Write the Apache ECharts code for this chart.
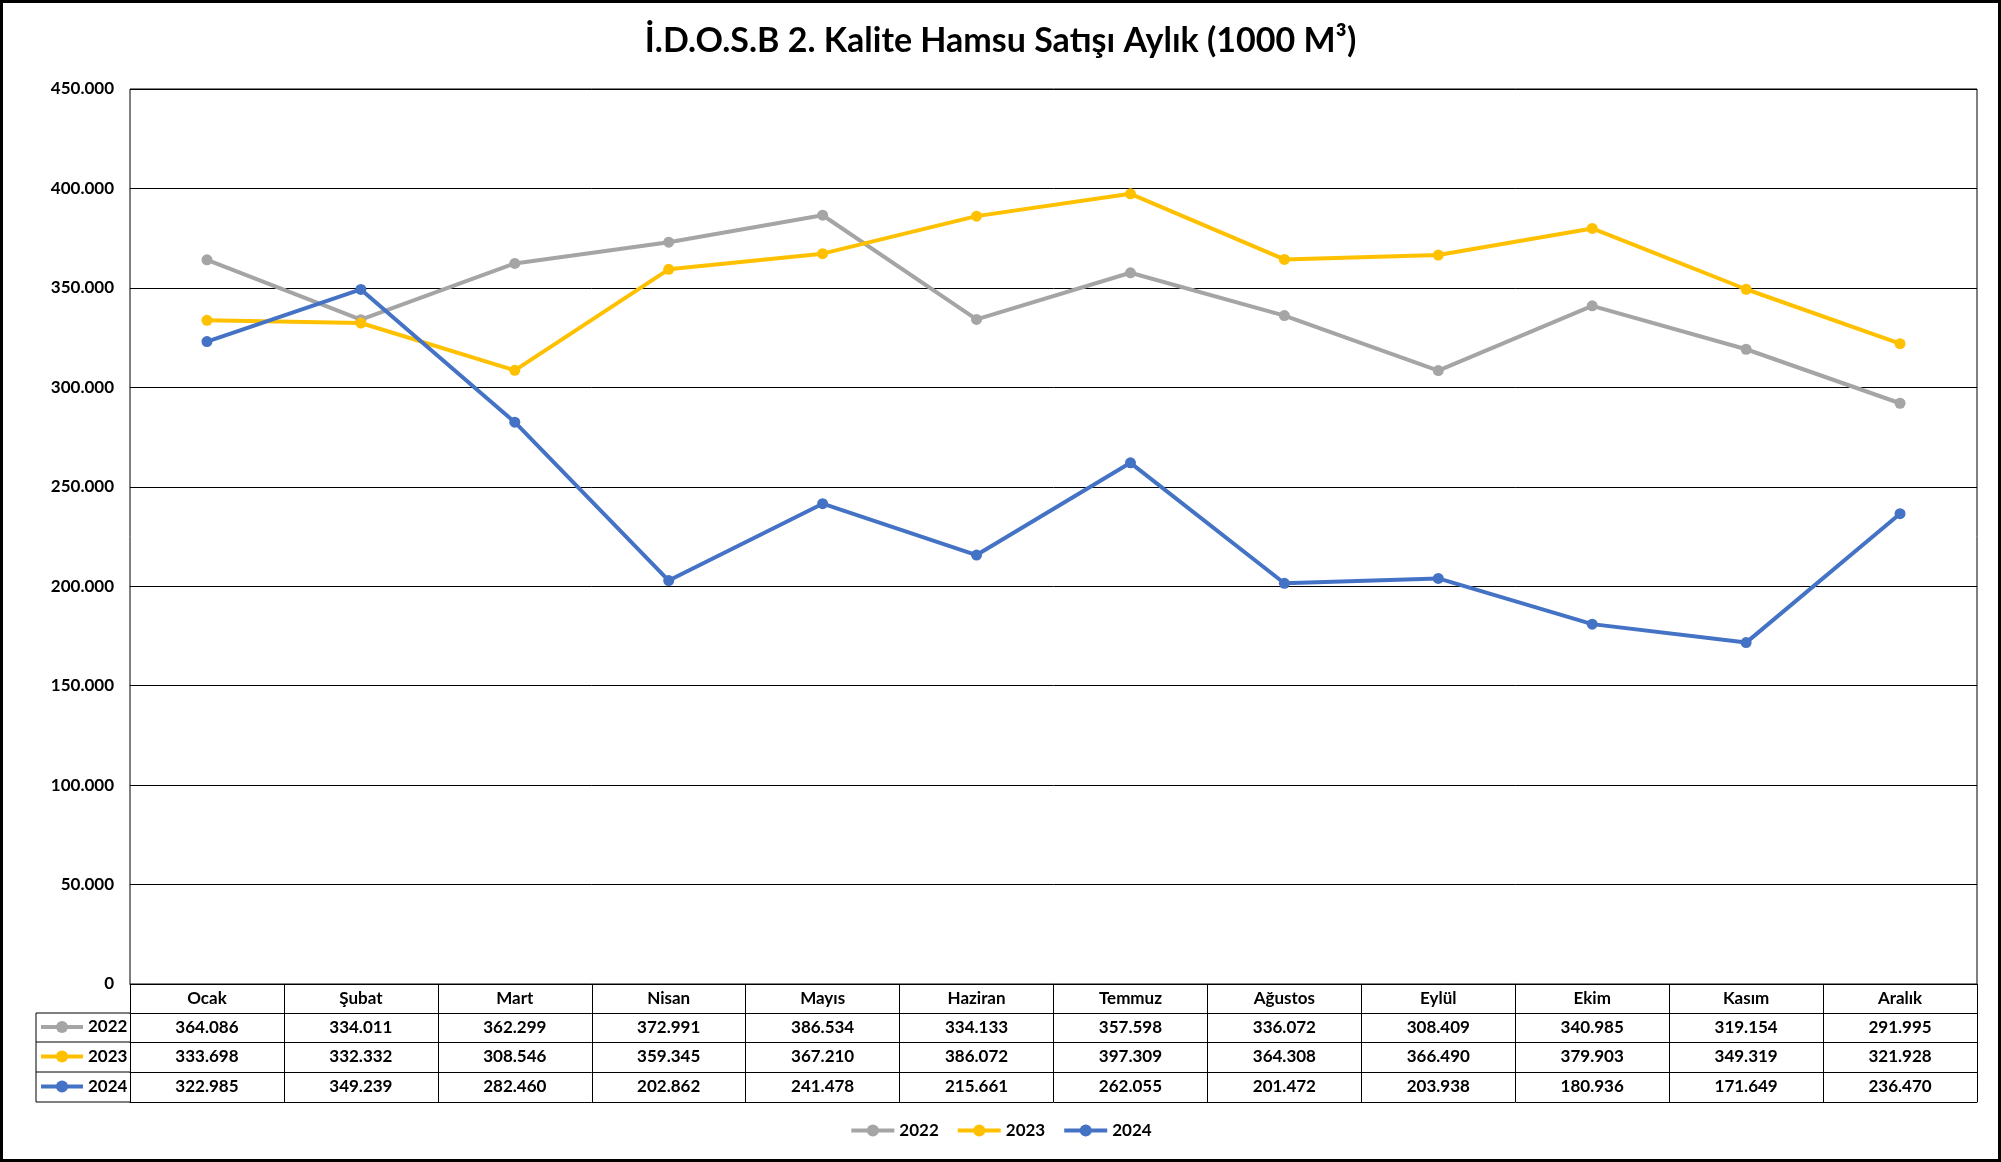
<!DOCTYPE html>
<html>
<head>
<meta charset="utf-8">
<script src="https://cdn.jsdelivr.net/npm/echarts@6/dist/echarts.min.js"></script>
<style>
html,body{margin:0;padding:0;background:#fff;}
#chart{width:2001px;height:1162px;}
</style>
</head>
<body>
<div id="chart"></div>
<script>
const months = ['Ocak','Şubat','Mart','Nisan','Mayıs','Haziran','Temmuz','Ağustos','Eylül','Ekim','Kasım','Aralık'];
const seriesNames = ['2022','2023','2024'];
const v2022 = [364086,334011,362299,372991,386534,334133,357598,336072,308409,340985,319154,291995];
const v2023 = [333698,332332,308546,359345,367210,386072,397309,364308,366490,379903,349319,321928];
const v2024 = [322985,349239,282460,202862,241478,215661,262055,201472,203938,180936,171649,236470];
const yTicks = {min:0, max:450000, interval:50000};
const colors = ['#A5A5A5','#FFC000','#4472C4'];

function fmt(v){ return String(v).replace(/\B(?=(\d{3})+(?!\d))/g,'.'); }

const FONT = 'Lato, "Noto Sans", sans-serif';
const lab = {color:'#000', fontWeight:'bold', fontSize:17, fontFamily:FONT};

const G = {left:130, right:24, top:89, bottom:178};
const rowOff = [0,29,58,88,118];
const tblLeft = 36;

function rowAxis(data, off, showLabel){
  return {
    type:'category', gridIndex:0, position:'bottom', offset:off, data:data,
    boundaryGap:true,
    axisLine:{show:true, lineStyle:{color:'#000', width:1}},
    axisTick:{show:false},
    splitLine:{show:false},
    axisLabel:Object.assign({show:showLabel, interval:0, margin:6}, lab)
  };
}

const chart = echarts.init(document.getElementById('chart'), null, {renderer:'canvas'});
const legendBase = {
  selectedMode:false, itemWidth:43, itemHeight:15, padding:0, orient:'horizontal',
  lineStyle:{width:4},
  textStyle:{color:'#000', fontWeight:'bold', fontSize:17, fontFamily:FONT}
};
const rowCenters = [1027.5, 1057, 1087];

chart.setOption({
  animation:false,
  color:colors,
  title:{
    text:'İ.D.O.S.B 2. Kalite Hamsu Satışı Aylık (1000 M³)',
    left:'center', top:19,
    textStyle:{color:'#000', fontWeight:'bold', fontSize:34, fontFamily:FONT}
  },
  grid:{left:G.left, right:G.right, top:G.top, bottom:G.bottom, show:true, borderColor:'#000', borderWidth:1, backgroundColor:'transparent'},
  xAxis:[
    {
      type:'category', gridIndex:0, position:'bottom', offset:0, data:months, boundaryGap:true,
      axisLine:{show:true, lineStyle:{color:'#000', width:1}},
      axisTick:{show:true, interval:0, inside:false, length:118, lineStyle:{color:'#000', width:1}},
      splitLine:{show:false},
      axisLabel:Object.assign({interval:0, margin:6}, lab)
    },
    rowAxis(v2022.map(fmt), rowOff[1], true),
    rowAxis(v2023.map(fmt), rowOff[2], true),
    rowAxis(v2024.map(fmt), rowOff[3], true),
    rowAxis(months, rowOff[4], false)
  ],
  yAxis:{
    type:'value', min:yTicks.min, max:yTicks.max, interval:yTicks.interval,
    axisLine:{show:false}, axisTick:{show:false},
    splitLine:{show:true, lineStyle:{color:'#000', width:1}},
    axisLabel:Object.assign({margin:16, formatter:fmt}, lab)
  },
  legend:[
    Object.assign({data:seriesNames, left:'center', top:1122, itemGap:17}, legendBase),
    Object.assign({data:['2022'], left:39, top:rowCenters[0]-9, itemWidth:42}, legendBase, {itemWidth:42}),
    Object.assign({data:['2023'], left:39, top:rowCenters[1]-9}, legendBase, {itemWidth:42}),
    Object.assign({data:['2024'], left:39, top:rowCenters[2]-9}, legendBase, {itemWidth:42})
  ],
  series:[
    {name:'2022', type:'line', data:v2022, symbol:'circle', symbolSize:11, lineStyle:{width:4}, itemStyle:{color:colors[0]}, z:2},
    {name:'2023', type:'line', data:v2023, symbol:'circle', symbolSize:11, lineStyle:{width:4}, itemStyle:{color:colors[1]}, z:3},
    {name:'2024', type:'line', data:v2024, symbol:'circle', symbolSize:11, lineStyle:{width:4}, itemStyle:{color:colors[2]}, z:4}
  ],
  graphic:[
    {type:'line', shape:{x1:tblLeft, y1:984+rowOff[1], x2:G.left, y2:984+rowOff[1]}, style:{stroke:'#000', lineWidth:1}},
    {type:'line', shape:{x1:tblLeft, y1:984+rowOff[2], x2:G.left, y2:984+rowOff[2]}, style:{stroke:'#000', lineWidth:1}},
    {type:'line', shape:{x1:tblLeft, y1:984+rowOff[3], x2:G.left, y2:984+rowOff[3]}, style:{stroke:'#000', lineWidth:1}},
    {type:'line', shape:{x1:tblLeft, y1:984+rowOff[4], x2:G.left, y2:984+rowOff[4]}, style:{stroke:'#000', lineWidth:1}},
    {type:'line', shape:{x1:tblLeft, y1:984+rowOff[1], x2:tblLeft, y2:984+rowOff[4]}, style:{stroke:'#000', lineWidth:1}},
    {type:'rect', shape:{x:1.5, y:1.5, width:1998, height:1159}, style:{fill:'none', stroke:'#000', lineWidth:3}, silent:true}
  ]
});
</script>
</body>
</html>
